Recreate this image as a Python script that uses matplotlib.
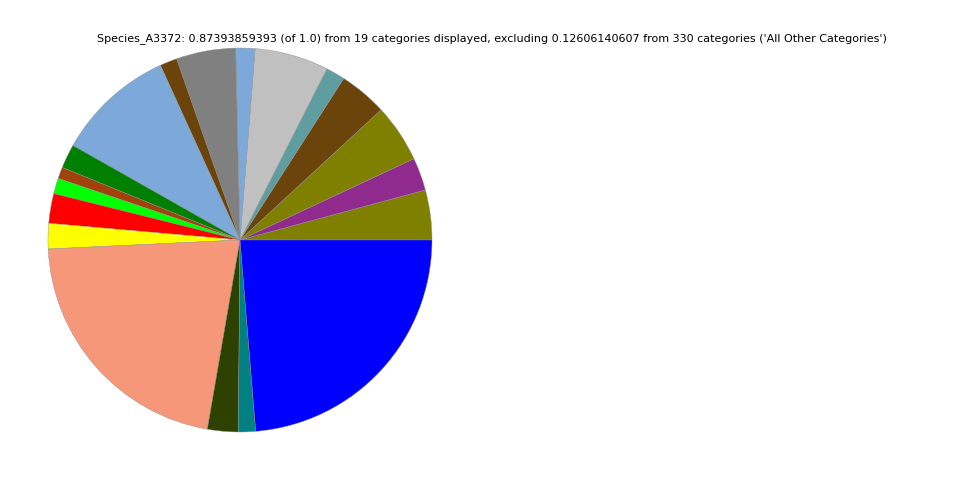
import matplotlib
matplotlib.use("Agg")
import matplotlib.pyplot as plt

# Relative abundances of the 19 displayed categories (counterclockwise from 3 o'clock)
categories = [
    "Cat01", "Cat02", "Cat03", "Cat04", "Cat05", "Cat06", "Cat07", "Cat08",
    "Cat09", "Cat10", "Cat11", "Cat12", "Cat13", "Cat14", "Cat15", "Cat16",
    "Cat17", "Cat18", "Cat19",
]
values = [
    0.03666, 0.02415, 0.04285, 0.03544, 0.01408, 0.05438, 0.01408, 0.04370,
    0.01262, 0.08739, 0.01772, 0.00850, 0.01141, 0.02185, 0.01869, 0.18814,
    0.02258, 0.01262, 0.20708,
]
colors = [
    "#808000", "#912A8E", "#808000", "#6B440C", "#5F9EA0", "#C0C0C0",
    "#7DA9DA", "#808080", "#6B440C", "#7DA9DA", "#008000", "#A0420A",
    "#00FF00", "#FF0000", "#FFFF00", "#F7977A", "#2D4200", "#008080",
    "#0000FF",
]

title = ("Species_A3372: 0.87393859393 (of 1.0) from 19 categories displayed, "
         "excluding 0.12606140607 from 330 categories ('All Other Categories')")

fig = plt.figure(figsize=(9.6, 4.8), dpi=100)
ax = fig.add_axes([48 / 960, 48 / 480, 384 / 960, 384 / 480])
ax.pie(values, colors=colors, startangle=0, counterclock=True,
       wedgeprops=dict(edgecolor="#909090", linewidth=0.3))
ax.set_xlim(-1, 1)
ax.set_ylim(-1, 1)
ax.set_aspect("equal")
ax.axis("off")

fig.text(492 / 960, 1 - 39 / 480, title, ha="center", va="center", fontsize=8)

fig.savefig("out.png", dpi=100)
